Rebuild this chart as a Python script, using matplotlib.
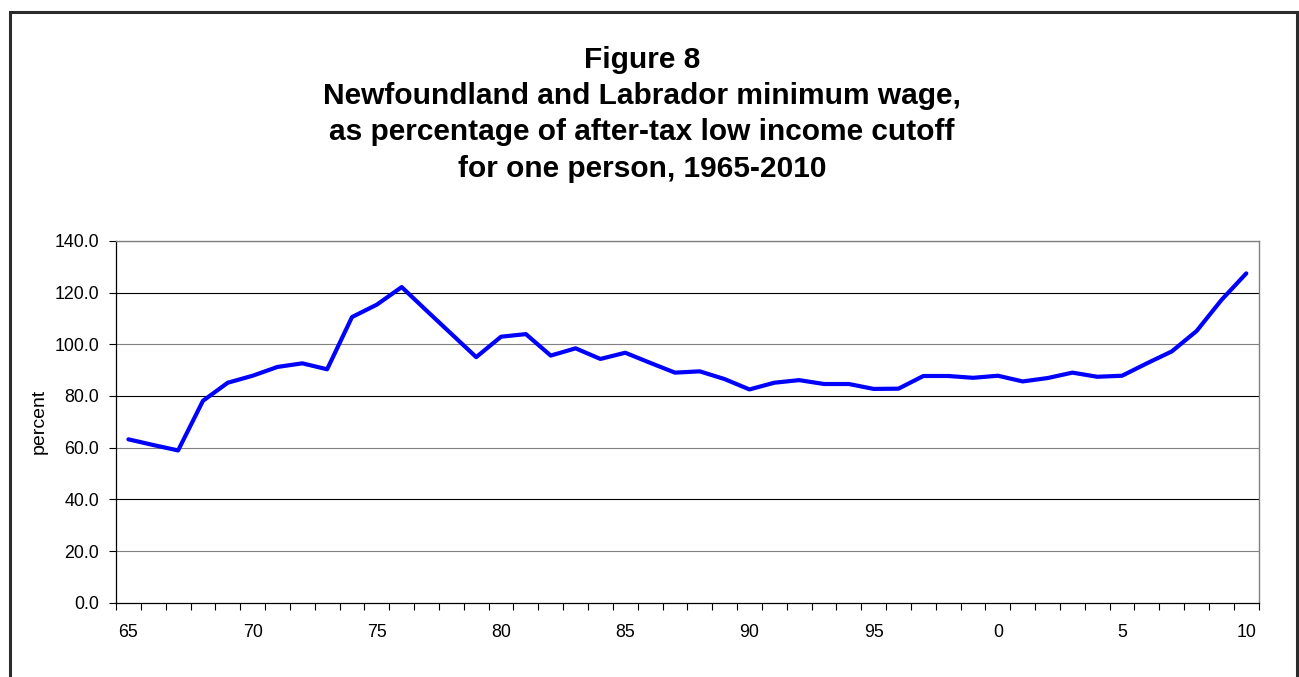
import matplotlib
matplotlib.use("Agg")
import matplotlib.pyplot as plt
from matplotlib.patches import Rectangle
import numpy as np

plt.rcParams['font.family'] = ['Liberation Sans', 'DejaVu Sans']

years = list(range(1965, 2011))
values = [63.2, 61.0, 58.9, 78.1, 85.1, 87.8, 91.2, 92.6, 90.3, 110.5,
          115.3, 122.1, 113.0, 104.0, 95.0, 102.9, 103.9, 95.6, 98.4, 94.3,
          96.7, 92.8, 89.0, 89.5, 86.5, 82.5, 85.1, 86.1, 84.6, 84.6,
          82.7, 82.8, 87.7, 87.7, 87.0, 87.8, 85.6, 86.9, 89.0, 87.4,
          87.8, 92.6, 97.2, 105.1, 117.1, 127.4]
tick_labels = ["65", "70", "75", "80", "85", "90", "95", "0", "5", "10"]
y_ticks = [0, 20, 40, 60, 80, 100, 120, 140]
title_lines = ["Figure 8",
               "Newfoundland and Labrador minimum wage,",
               "as percentage of after-tax low income cutoff",
               "for one person, 1965-2010"]

W, H = 1299, 677
fig = plt.figure(figsize=(W / 100, H / 100), dpi=100)
fig.patch.set_facecolor('white')

# outer chart border
fig.patches.append(Rectangle((9.5 / W, -0.05), (1297 - 9.5) / W, 1.05 - 12 / H,
                             transform=fig.transFigure, fill=False,
                             edgecolor='#2b2b2b', linewidth=2.2, zorder=0))

ax = fig.add_axes([116 / W, (H - 602.7) / H, (1258.7 - 116) / W, (602.7 - 240.8) / H])
x = np.arange(len(years))
ax.plot(x, values, color='#0000FF', linewidth=3.0, solid_joinstyle='round',
        solid_capstyle='round', zorder=3)

ax.set_xlim(-0.5, len(years) - 0.5)
ax.set_ylim(0, 140)

# y axis
ax.set_yticks(y_ticks)
ax.set_yticklabels([f"{v:.1f}" for v in y_ticks], fontsize=12.8)
ax.tick_params(axis='y', direction='out', length=5, width=0.8, pad=7, color='black')
for i, v in enumerate(y_ticks[1:]):
    ax.axhline(v, color='#808080' if i % 2 == 0 else 'black', linewidth=0.8, zorder=1)

# x axis: tick marks at category boundaries, labels at category centres
ax.set_xticks(np.arange(-0.5, len(years), 1.0))
ax.set_xticklabels([])
ax.tick_params(axis='x', which='major', direction='out', length=5, width=0.8, color='black')
label_pos = [years.index(int(("19" if int(t) > 50 else "20") + t.zfill(2))) for t in tick_labels]
ax.set_xticks(label_pos, minor=True)
ax.set_xticklabels(tick_labels, minor=True, fontsize=12.8)
ax.tick_params(axis='x', which='minor', length=0, pad=15.5)

ax.set_ylabel("percent", fontsize=14, labelpad=5)

for s in ['left', 'bottom']:
    ax.spines[s].set_color('black')
    ax.spines[s].set_linewidth(0.9)
for s in ['top', 'right']:
    ax.spines[s].set_color('#808080')
    ax.spines[s].set_linewidth(1.0)

baselines = [68, 104, 140.5, 177]
for line, yb in zip(title_lines, baselines):
    fig.text(642 / W, (H - yb) / H, line, ha='center', va='baseline', fontsize=21.5,
             fontweight='bold')

fig.savefig("out.png", dpi=100, facecolor='white')
